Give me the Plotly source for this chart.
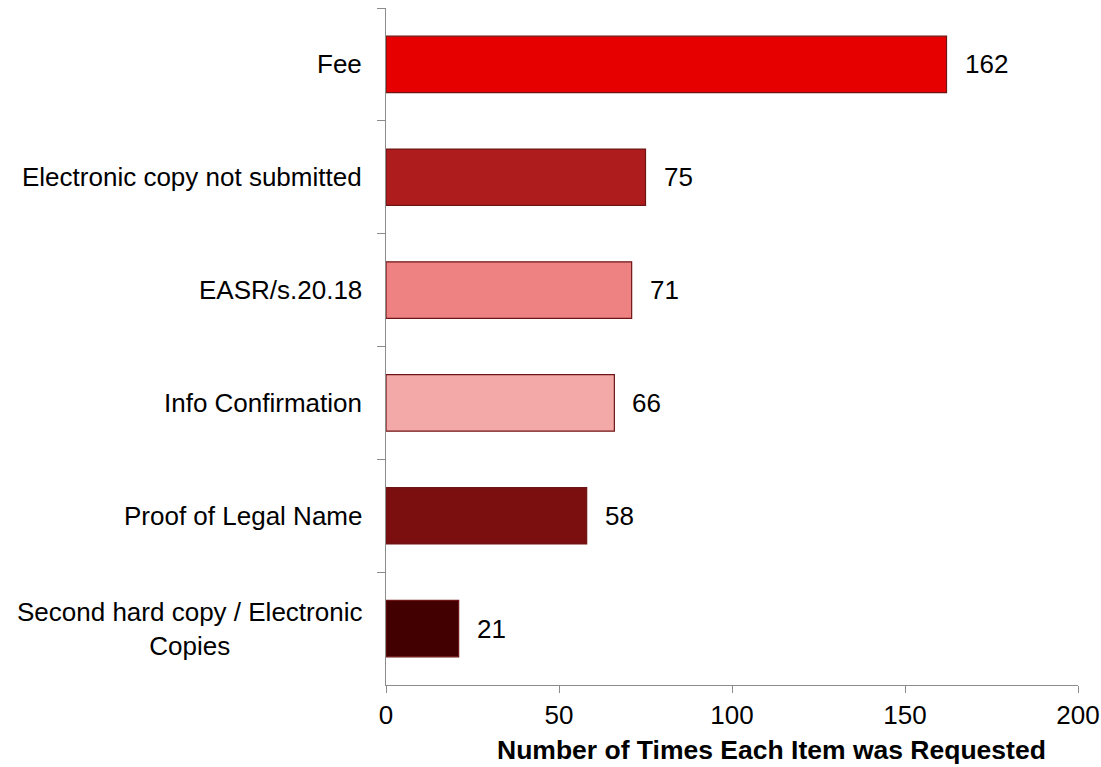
import plotly.graph_objects as go

categories = ["Fee", "Electronic copy not submitted", "EASR/s.20.18",
              "Info Confirmation", "Proof of Legal Name",
              "Second hard copy / Electronic<br>Copies"]
values = [162, 75, 71, 66, 58, 21]
colors = ["#e60000", "#ae1c1e", "#ee8282", "#f4a9a9", "#7b0f10", "#420000"]
x_ticks = [0, 50, 100, 150, 200]
x_title = "Number of Times Each Item was Requested"

FONT = "Liberation Sans, Arial, sans-serif"
FS = 26

fig = go.Figure()
fig.add_trace(go.Bar(
    y=categories, x=values, orientation="h",
    marker=dict(color=colors, line=dict(color="#6e1414", width=1.2)),
    width=0.5, hoverinfo="x+y",
))

for c, v in zip(categories, values):
    fig.add_annotation(x=v, y=c, text=str(v), showarrow=False,
                       xanchor="left", xshift=16,
                       font=dict(family=FONT, size=FS, color="#000000"))
    fig.add_annotation(x=0, y=c, xref="paper", text=c, showarrow=False,
                       xanchor="right", align="center", xshift=-22,
                       font=dict(family=FONT, size=FS, color="#000000"))

fig.add_annotation(x=0.557, y=0, xref="paper", yref="paper",
                   text="<b>" + x_title + "</b>", showarrow=False,
                   xanchor="center", yanchor="middle", yshift=-65,
                   font=dict(family=FONT, size=26.5, color="#000000"))

fig.update_layout(
    width=1101, height=767,
    margin=dict(l=386, r=23, t=8, b=82, autoexpand=False),
    paper_bgcolor="white", plot_bgcolor="white",
    showlegend=False,
    font=dict(family=FONT, size=FS, color="#000000"),
    xaxis=dict(range=[0, 200], tickvals=x_ticks, showgrid=False,
               showline=True, linecolor="#8c8c8c", linewidth=1.3,
               ticks="outside", ticklen=7, tickcolor="#8c8c8c", tickwidth=1.3,
               tickfont=dict(family=FONT, size=FS, color="#000000"),
               zeroline=False, automargin=False),
    yaxis=dict(type="category", autorange="reversed", showgrid=False,
               showline=True, linecolor="#8c8c8c", linewidth=1.3,
               ticks="outside", ticklen=8, tickcolor="#8c8c8c", tickwidth=1.3,
               tickson="boundaries", showticklabels=False, automargin=False),
)

fig.write_html("out.html",
               config={"displayModeBar": False},
               post_script="document.body.style.margin='0';"
                           "document.body.style.overflow='hidden';")
